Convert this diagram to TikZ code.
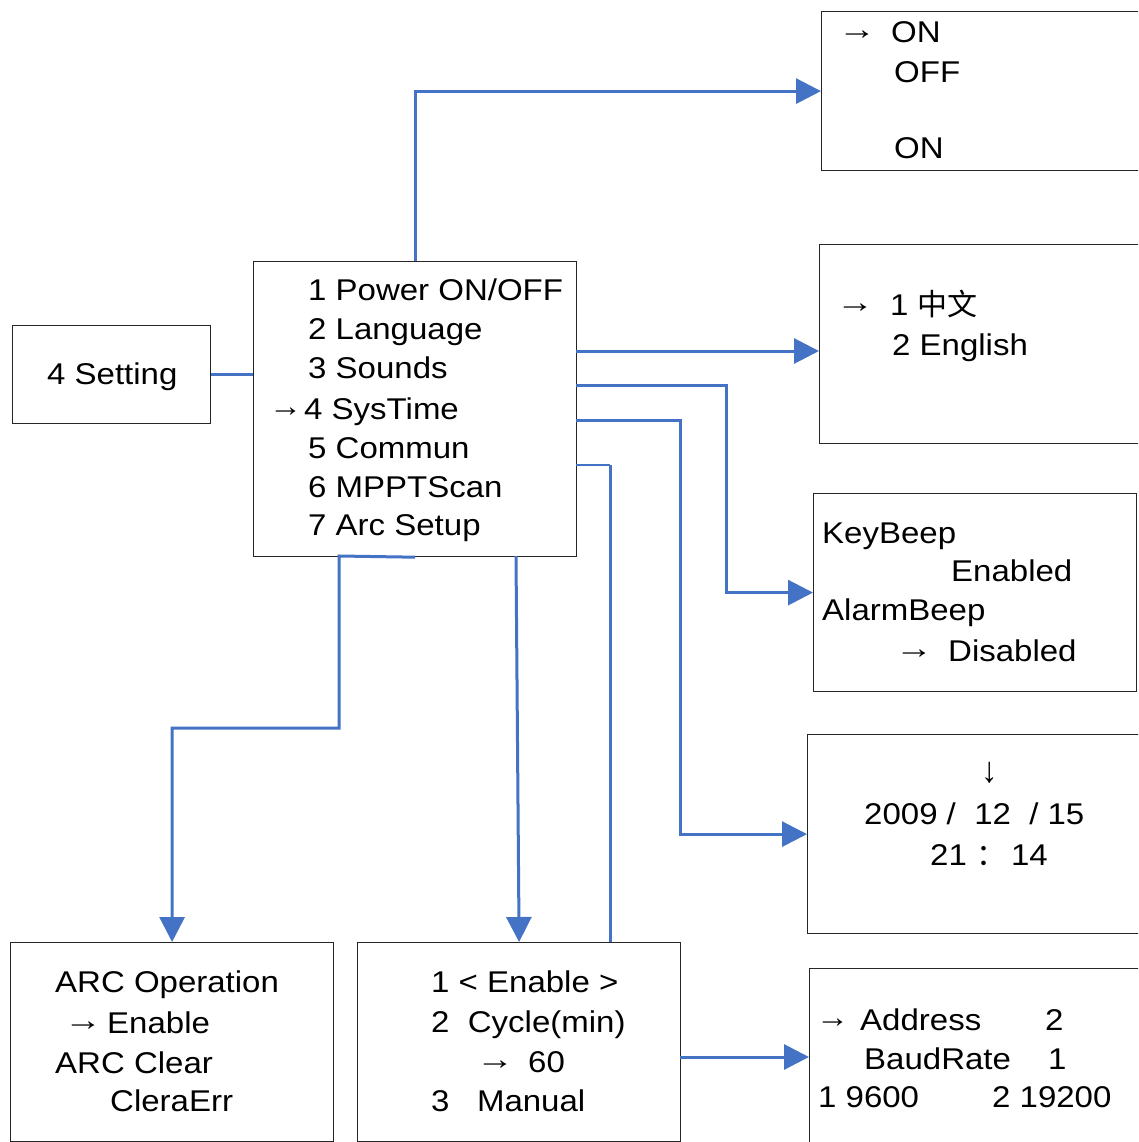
\documentclass[tikz,border=0pt]{standalone}
\usepackage{fontspec}
\setmainfont{Liberation Sans}[FakeStretch=1.1]
\newfontfamily\cjk{Noto Sans CJK SC}
\usetikzlibrary{arrows.meta}
\definecolor{lineblue}{RGB}{68,114,196}
\newcommand\fs{\fontsize{30}{36}\selectfont}
\newcommand\rar{\raisebox{3pt}{\scalebox{1.15}[1]{→}}}
\newcommand\srar{\raisebox{3pt}{→}}
\newcommand\dar{\scalebox{1}[1.2]{↓}}
\begin{document}
\begin{tikzpicture}[x=1pt,y=-1pt,
  box/.style={draw=black!85,line width=1.2pt,inner sep=0pt,anchor=north west},
  conn/.style={draw=lineblue,line width=3pt},
  thinconn/.style={draw=lineblue,line width=1.6pt},
  arr/.style={conn,-{Triangle[width=25pt,length=25pt]}},
  txt/.style={anchor=base west,inner sep=0pt,font=\fs}]
\useasboundingbox (0,0) rectangle (1138,1142);
\clip (0,0) rectangle (1138,1142);
% boxes
\node[box,minimum width=198pt,minimum height=98pt] (setting) at (12,325) {};
\node[box,minimum width=323pt,minimum height=295pt] (menu) at (253,261) {};
\node[box,minimum width=340pt,minimum height=159pt] (onoff) at (821,11) {};
\node[box,minimum width=340pt,minimum height=199pt] (lang) at (819,244) {};
\node[box,minimum width=323pt,minimum height=198pt] (sounds) at (813,493) {};
\node[box,minimum width=340pt,minimum height=199pt] (time) at (807,734) {};
\node[box,minimum width=340pt,minimum height=200pt] (comm) at (809,968) {};
\node[box,minimum width=323pt,minimum height=199pt] (arc) at (10,942) {};
\node[box,minimum width=323pt,minimum height=199pt] (mppt) at (357,942) {};
% texts
\node[txt] (tset) at (47,384) {4 Setting};
\node[txt] (t1) at (308,300) {1 Power ON/OFF};
\node[txt] (t2) at (308,339) {2 Language};
\node[txt] (t3) at (308,378) {3 Sounds};
\node[txt] (t4a) at (269,419) {\srar};
\node[txt] (t4) at (304,419) {4 SysTime};
\node[txt] (t5) at (308,458) {5 Commun};
\node[txt] (t6) at (308,497) {6 MPPTScan};
\node[txt] (t7) at (308,535) {7 Arc Setup};
% on/off
\node[txt] (oa) at (838,43) {\rar};
\node[txt] (o1) at (891,43) {ON};
\node[txt] (o2) at (894,83) {OFF};
\node[txt] (o3) at (894,159) {ON};
% language
\node[txt] (la) at (836,315) {\rar};
\node[txt] (l1) at (890,315) {1 {\cjk 中文}};
\node[txt] (l2) at (892,355) {2 English};
% sounds
\node[txt] (s1) at (822,543) {KeyBeep};
\node[txt] (s2) at (951,581) {Enabled};
\node[txt] (s3) at (822,620) {AlarmBeep};
\node[txt] (sa) at (895,661) {\rar};
\node[txt] (s4) at (948,661) {Disabled};
% time
\node[txt] (da) at (981,782) {\dar};
\node[txt] (d1) at (864,824) {2009 /\ \ 12\ \ / 15};
\node[txt] (d2) at (930,865) {21 {\cjk ：}\,14};
% comm
\node[txt] (ca) at (816,1030) {\srar};
\node[txt] (c1) at (860,1030) {Address};
\node[txt] (c2) at (1045,1030) {2};
\node[txt] (c3) at (864,1069) {BaudRate};
\node[txt] (c4) at (1048,1069) {1};
\node[txt] (c5) at (818,1107) {1 9600};
\node[txt] (c6) at (992,1107) {2 19200};
% arc
\node[txt] (a1) at (55,992) {ARC Operation};
\node[txt] (aa) at (64,1033) {\rar};
\node[txt] (a2) at (107,1033) {Enable};
\node[txt] (a3) at (55,1073) {ARC Clear};
\node[txt] (a4) at (110,1111) {CleraErr};
% mppt
\node[txt] (p1) at (431,992) {1 < Enable >};
\node[txt] (p2) at (431,1032) {2\ \ Cycle(min)};
\node[txt] (pa) at (476,1072) {\rar};
\node[txt] (p3) at (528,1072) {60};
\node[txt] (p4) at (431,1111) {3\ \ \ Manual};
% connector points
\coordinate (m1) at (576,351);
\coordinate (m2) at (576,385);
\coordinate (k2) at (726,385);
\coordinate (m3) at (576,420);
\coordinate (k3) at (680,420);
\coordinate (m4) at (576,465);
\coordinate (m4c) at (610,465);
\coordinate (mb) at (339,556);
\coordinate (mb2) at (339,728);
\coordinate (ms) at (516,556);
\coordinate (m5) at (680,1057);
% connectors
\draw[conn] (setting.east) -- (setting.east -| menu.west);
\draw[arr] (menu.north) |- (onoff.west);
\draw[arr] (m1) -- (m1 -| lang.west);
\draw[arr] (m2) -- (k2) |- (sounds.west);
\draw[arr] (m3) -- (k3) |- (time.west);
\draw[thinconn] (m4) -- (m4c);
\draw[conn] (m4c) -- (m4c |- mppt.north);
\draw[arr] (m5) -- (m5 -| comm.west);
\draw[arr] (menu.south) -- (mb) -- (mb2) -| (arc.north);
\draw[arr] (ms) -- (mppt.north);
\end{tikzpicture}
\end{document}
